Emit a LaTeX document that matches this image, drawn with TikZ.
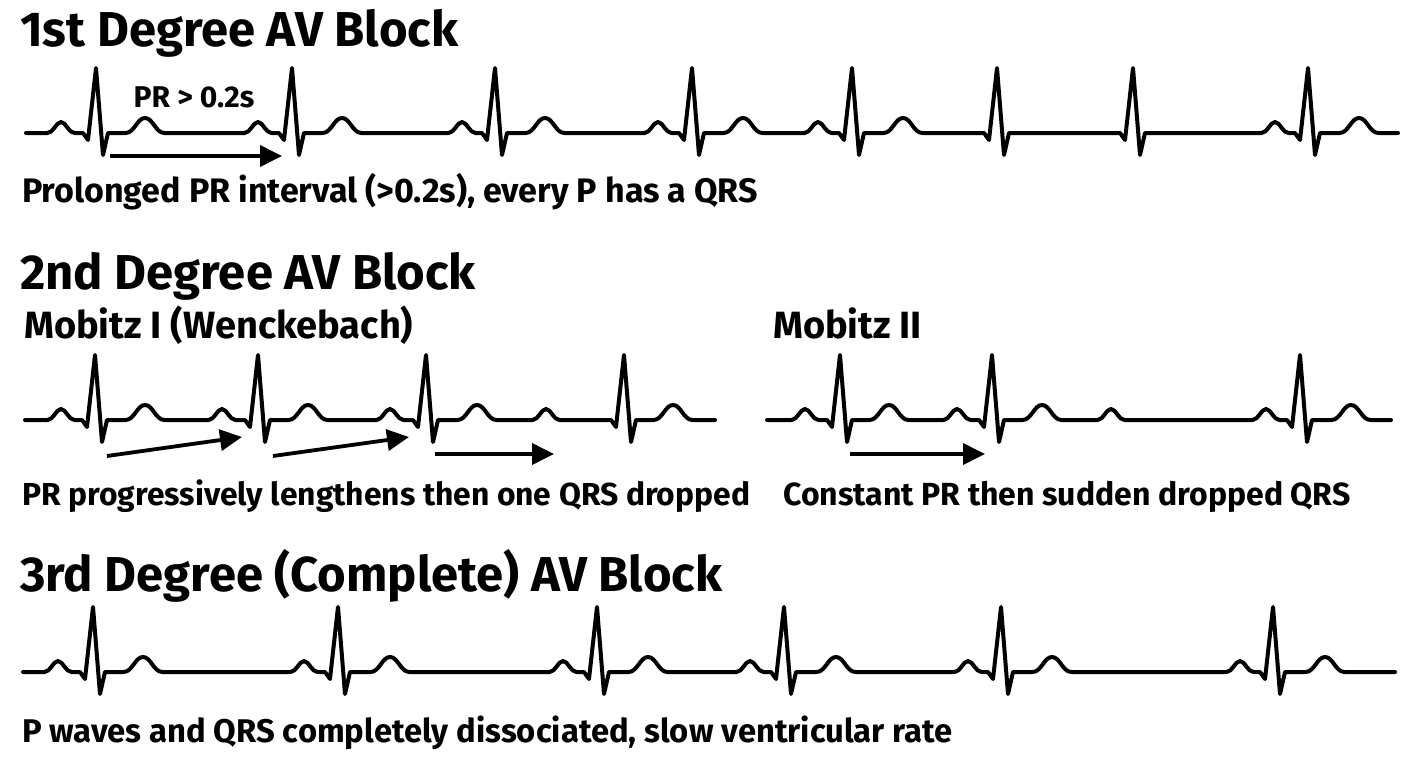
\documentclass[tikz,border=0pt]{standalone}
\usepackage{fontspec}
\setmainfont{Fira Sans}
\usetikzlibrary{arrows.meta}

\begin{document}
\begin{tikzpicture}[x=1pt,y=1pt,
  ecg/.style={black,line width=4pt,line join=round,line cap=round},
  pw/.style={insert path={-- (#1-13.5,\yb) .. controls +(6,0) and +(-5,0) .. ++(13.5,11) .. controls +(5,0) and +(-6,0) .. ++(13.5,-11)}},
  qrs/.style={insert path={-- (#1-13,\yb) -- ++(5,-7) -- ++(8,72) -- ++(7,-87) -- ++(5,22)}},
  tw/.style={insert path={-- (#1-19.5,\yb) .. controls +(9,0) and +(-8,0) .. ++(19.5,15) .. controls +(8,0) and +(-9,0) .. ++(19.5,-15)}},
  prarrow/.style={black,line width=3.8pt,-{Triangle[length=22pt,width=21pt]}},
  head/.style={anchor=base west,inner sep=0pt,font=\bfseries\fontsize{49}{52}\selectfont},
  sub/.style={anchor=base west,inner sep=0pt,font=\bfseries\fontsize{38}{40}\selectfont},
  note/.style={anchor=base west,inner sep=0pt,font=\bfseries\fontsize{#1}{36}\selectfont},
  note/.default=32]
\useasboundingbox (0,0) rectangle (1408,-768);
% 1st degree
\node [head] (title1) at (20,-47) {1st Degree AV Block};
\def\yb{-133}
\draw [ecg] (26,\yb) [pw=61] [qrs=96] [tw=145] [pw=258] [qrs=292] [tw=342]
  [pw=462] [qrs=495] [tw=545] [pw=658] [qrs=692] [tw=743]
  [pw=818] [qrs=852] [tw=903] [qrs=997] [qrs=1133]
  [pw=1275] [qrs=1308] [tw=1359] -- (1398,\yb);
\node [anchor=base,inner sep=0pt,font=\bfseries\fontsize{30}{32}\selectfont] (prlab) at (194,-107) {PR > 0.2s};
\coordinate (a1s) at (110,-156);
\coordinate (a1e) at (282,-156);
\draw [prarrow] (a1s) -- (a1e);
\node [note=34] (note1) at (22,-202) {Prolonged PR interval (>0.2s), every P has a QRS};
% 2nd degree
\node [head] (title2) at (20,-289) {2nd Degree AV Block};
\node [sub] (mobI) at (24,-338) {Mobitz I (Wenckebach)};
\node [sub] (mobII) at (773,-338) {Mobitz II};
\def\yb{-420}
\draw [ecg] (25,\yb) [pw=61] [qrs=95] [tw=145] [pw=222] [qrs=258] [tw=308]
  [pw=390] [qrs=426] [tw=477] [pw=546] [qrs=624] [tw=673] -- (715,\yb);
\draw [ecg] (767,\yb) [pw=805] [qrs=840] [tw=889] [pw=957] [qrs=992] [tw=1042]
  [pw=1111] [pw=1266] [qrs=1300] [tw=1351] -- (1391,\yb);
\coordinate (a2s) at (107,-456);
\coordinate (a2e) at (242,-437);
\coordinate (a3s) at (273,-456);
\coordinate (a3e) at (409,-437);
\coordinate (a4s) at (435,-454);
\coordinate (a4e) at (554,-454);
\coordinate (a5s) at (850,-454);
\coordinate (a5e) at (985,-454);
\draw [prarrow] (a2s) -- (a2e);
\draw [prarrow] (a3s) -- (a3e);
\draw [prarrow] (a4s) -- (a4e);
\draw [prarrow] (a5s) -- (a5e);
\node [note=31.8] (note2a) at (22,-505) {PR progressively lengthens then one QRS dropped};
\node [note] (note2b) at (783,-505) {Constant PR then sudden dropped QRS};
% 3rd degree
\node [head] (title3) at (20,-591) {3rd Degree (Complete) AV Block};
\def\yb{-672}
\draw [ecg] (23,\yb) [pw=58] [qrs=93] [tw=143] [pw=304] [qrs=338] [tw=390]
  [pw=563] [qrs=597] [tw=648] [pw=750] [qrs=784] [tw=836]
  [pw=968] [qrs=1001] [tw=1052] [pw=1240] [qrs=1273] [tw=1325] -- (1395,\yb);
\node [note=32.8] (note3) at (22,-742) {P waves and QRS completely dissociated, slow ventricular rate};
\end{tikzpicture}
\end{document}
